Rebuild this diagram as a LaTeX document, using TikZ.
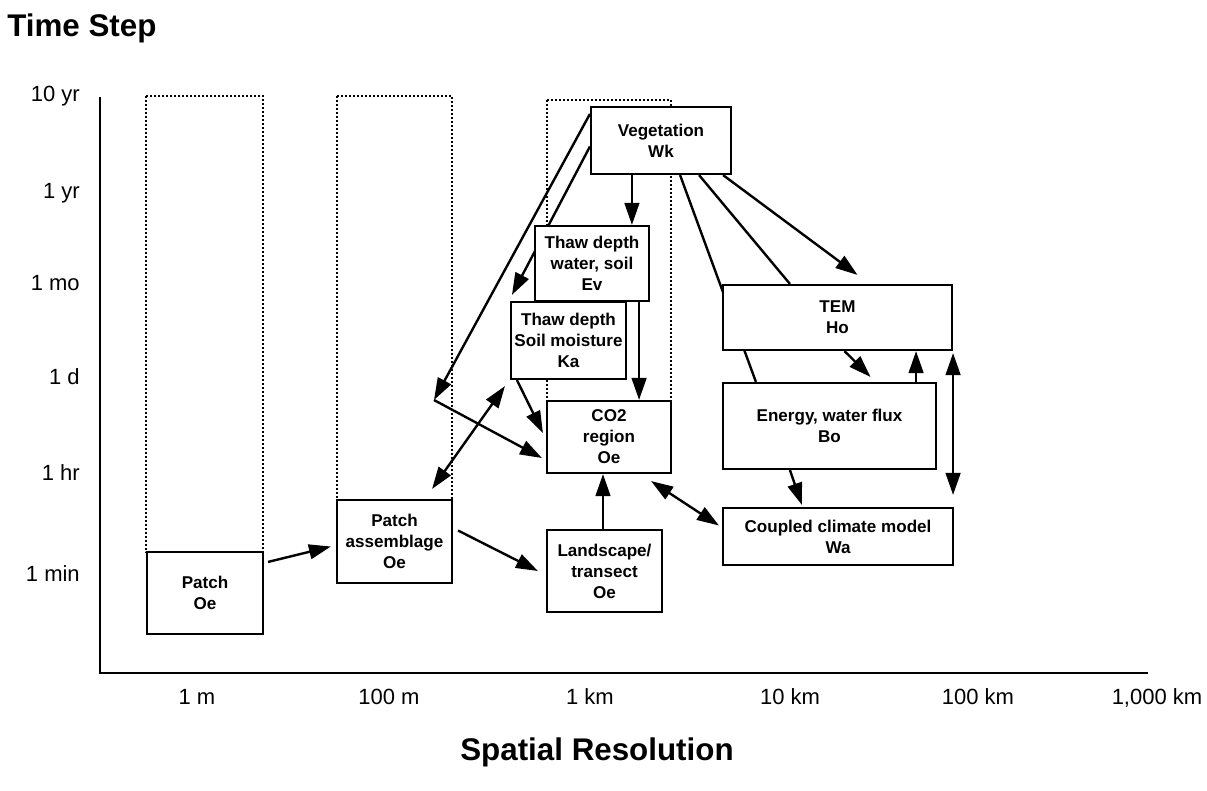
\documentclass[tikz,border=0pt]{standalone}
\usepackage{fontspec}
\setmainfont{Liberation Sans}
\usetikzlibrary{arrows.meta,calc,backgrounds}
\newcommand{\bx}[6]{\node[box, minimum width={(#4-#2)*0.75pt}, minimum height={(#5-#3)*0.75pt}] (#1) at ({(#2+#4)/2},{(#3+#5)/2}) {#6};}
\tikzset{
  box/.style={draw, line width=1.6pt, fill=white, inner sep=0pt, align=center,
    font=\bfseries\fontsize{12.8}{15.8}\selectfont},
  arr/.style={line width=1.8pt, -{Triangle[length=16.5pt,width=11pt]}},
  darr/.style={line width=1.8pt, {Triangle[length=16.5pt,width=11pt]}-{Triangle[length=16.5pt,width=11pt]}},
  plainln/.style={line width=1.8pt},
  dotbox/.style={line width=1pt, dash pattern=on 1.2pt off 1.8pt},
  axis/.style={line width=1.5pt},
  ylab/.style={anchor=base east, inner sep=0pt, font=\fontsize{16.5}{18}\selectfont},
  xlab/.style={anchor=base, inner sep=0pt, font=\fontsize{16.5}{18}\selectfont},
  ttl/.style={inner sep=0pt, font=\bfseries\fontsize{23.5}{26}\selectfont}
}
\begin{document}
\begin{tikzpicture}[x=0.75pt,y=-0.75pt]
\useasboundingbox (0,0) rectangle (1207,790);

% titles
\node[ttl, anchor=base west] (ts) at (7,36) {Time Step};
\node[ttl, anchor=base] (sr) at (597,760) {Spatial Resolution};

% axes
\draw[axis] (100,97) -- (100,673) -- (1148,673);

% y labels
\node[ylab] (y1) at (80,101) {10 yr};
\node[ylab] (y2) at (80,198) {1 yr};
\node[ylab] (y3) at (80,290) {1 mo};
\node[ylab] (y4) at (80,384) {1 d};
\node[ylab] (y5) at (80,480) {1 hr};
\node[ylab] (y6) at (80,581) {1 min};

% x labels
\node[xlab] (x1) at (197,704) {1 m};
\node[xlab] (x2) at (389,704) {100 m};
\node[xlab] (x3) at (590,704) {1 km};
\node[xlab] (x4) at (790,704) {10 km};
\node[xlab] (x5) at (978,704) {100 km};
\node[xlab] (x6) at (1157,704) {1,000 km};

% boxes
\bx{patch}{147}{552}{263}{634}{Patch\\Oe}
\bx{pa}{337}{500}{452}{583}{Patch\\assemblage\\Oe}
\bx{land}{547}{530}{662}{612}{Landscape/\\transect\\Oe}
\bx{co2}{547}{401}{671}{473}{CO2\\region\\Oe}
\bx{ka}{511}{302}{626}{379}{Thaw depth\\Soil moisture\\Ka}
\bx{ev}{535}{226}{649}{301}{Thaw depth\\water, soil\\Ev}
\bx{veg}{591}{107}{731}{174}{Vegetation\\Wk}
\bx{tem}{723}{285}{952}{350}{TEM\\Ho}
\bx{energy}{723}{383}{936}{469}{Energy, water flux\\Bo}
\bx{coupled}{723}{508}{953}{565}{Coupled climate model\\Wa}

\coordinate (c1) at (434,400);

\begin{scope}[on background layer]
  % dotted ranges
  \draw[dotbox] (146,96) rectangle (263,552);
  \draw[dotbox] (337,96) rectangle (452,500);
  \draw[dotbox] (547,100) rectangle (671,401);

  % connectors
  \draw[arr] ($(veg.north west)+(0,8)$) -- (c1);
  \draw[arr] (c1) -- ($(co2.west)+(-4,21)$);
  \draw[arr] ($(veg.west)+(0,6)$) -- ($(ka.north west)+(2,-6)$);
  \draw[arr] ($(veg.south west)+(42,0)$) coordinate (a1) -- (a1 |- ev.north);
  \draw[arr] ($(ev.south east)+(-11,0)$) coordinate (a2) -- (a2 |- co2.north);
  \draw[arr] ($(ka.south west)+(7,0)$) -- ($(co2.west)+(-3,-4)$);
  \draw[darr] ($(pa.north east)+(-21,-10)$) -- ($(ka.south west)+(-5,6)$);
  \draw[arr] ($(patch.north east)+(4,11)$) -- ($(pa.west)+(-5,5)$);
  \draw[arr] ($(pa.east)+(5,-11)$) -- ($(land.west)+(-8,0)$);
  \draw[arr] ($(land.north)+(-1.5,0)$) coordinate (a3) -- (a3 |- co2.south);
  \draw[darr] ($(co2.south east)+(-21,7)$) -- ($(coupled.west)+(-3,-11)$);
  \draw[arr] ($(veg.south east)+(-9,0)$) -- ($(tem.north)+(20,-9)$);
  \draw[plainln] ($(veg.south east)+(-33,0)$) -- ($(tem.north west)+(68,0)$);
  \draw[plainln] ($(veg.south east)+(-52,0)$) -- ($(energy.north west)+(34,0)$);
  \draw[arr] ($(tem.south)+(7,0)$) -- ($(energy.north)+(41,-5)$);
  \draw[arr] ($(energy.north east)+(-21,0)$) coordinate (a4) -- (a4 |- tem.south);
  \draw[arr] ($(energy.south west)+(68,0)$) -- ($(coupled.north west)+(80,-2)$);
  \draw[darr] ($(tem.south east)+(0,2)$) coordinate (a5) -- ($(a5 |- coupled.north)+(0,-12)$);
\end{scope}
\end{tikzpicture}
\end{document}
